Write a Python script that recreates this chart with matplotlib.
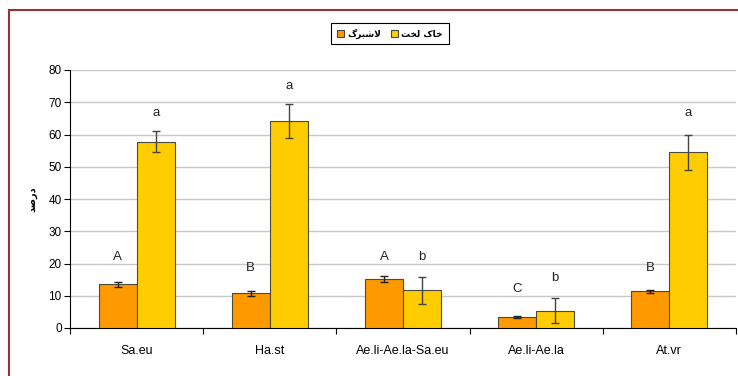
import numpy as np
import matplotlib.pyplot as plt
from matplotlib.patches import Rectangle

plt.rcParams['font.family'] = ['Liberation Sans', 'DejaVu Sans']

categories = ['Sa.eu', 'Ha.st', 'Ae.li-Ae.la-Sa.eu', 'Ae.li-Ae.la', 'At.vr']
litter = [13.5, 10.8, 15.2, 3.3, 11.4]
litter_err = [0.7, 0.8, 0.9, 0.3, 0.5]
bare = [57.8, 64.2, 11.7, 5.4, 54.5]
bare_err = [3.3, 5.2, 4.2, 3.9, 5.5]
litter_letters = ['A', 'B', 'A', 'C', 'B']
bare_letters = ['a', 'a', 'b', 'b', 'a']
litter_letter_y = [22.1, 18.6, 22.1, 12.0, 18.5]
bare_letter_y = [66.6, 74.9, 22.1, 15.4, 66.6]

# Persian labels written in presentation forms, visual (left-to-right) order
lbl_litter = '\uFB92\uFEAE\uFE92\uFEB7\uFEFB'          # لاشبرگ
lbl_bare = '\uFE96\uFEA8\uFEDF \uFB8E\uFE8E\uFEA7'     # خاک لخت
lbl_y = '\uFEAA\uFEBB\uFEAD\uFEA9'                     # درصد

fig = plt.figure(figsize=(7.38, 3.76), dpi=100)
ax = fig.add_axes([70 / 738, 1 - 328 / 376, 666 / 738, 258 / 376])

x = np.arange(len(categories))
w = 0.2857
ekw = dict(elinewidth=1, capthick=1, capsize=3, ecolor='#222222')
ax.bar(x - w / 2, litter, w, yerr=litter_err, color='#FF9900',
       edgecolor='#4a4a3a', linewidth=0.8, error_kw=ekw, zorder=3, label=lbl_litter)
ax.bar(x + w / 2, bare, w, yerr=bare_err, color='#FFCC00',
       edgecolor='#4a4a3a', linewidth=0.8, error_kw=dict(ekw, ecolor='#444444'),
       zorder=3, label=lbl_bare)

for i in range(len(categories)):
    ax.text(x[i] - w / 2, litter_letter_y[i], litter_letters[i], ha='center',
            va='center', fontsize=9.5, color='#222222')
    ax.text(x[i] + w / 2, bare_letter_y[i], bare_letters[i], ha='center',
            va='center', fontsize=9.5, color='#222222')

ax.set_xlim(-0.5, len(categories) - 0.5)
ax.set_ylim(0, 80)
ax.set_yticks(np.arange(0, 81, 10))
ax.yaxis.grid(True, color='#c8c8c8', linewidth=1, zorder=0)
ax.set_axisbelow(True)

ax.set_xticks(x)
ax.set_xticklabels(categories)
ax.set_xticks(np.arange(-0.5, len(categories)), minor=True)
ax.tick_params(axis='x', which='major', length=0, pad=12, labelsize=9)
ax.tick_params(axis='x', which='minor', length=4, width=0.8, direction='out')
ax.tick_params(axis='y', length=4, width=0.8, pad=2, labelsize=8.5)

for s in ['top', 'right']:
    ax.spines[s].set_visible(False)
for s in ['left', 'bottom']:
    ax.spines[s].set_linewidth(0.8)

ax.set_ylabel(lbl_y, fontsize=7, fontweight='bold', family='DejaVu Sans', labelpad=8)

leg = fig.legend(loc='center', bbox_to_anchor=(390 / 738, 1 - 33.5 / 376), ncol=2,
                 prop=dict(family='DejaVu Sans', weight='bold', size=6.5),
                 handlelength=0.8, handleheight=0.8, handletextpad=0.4,
                 columnspacing=1.0, fancybox=False, framealpha=1,
                 edgecolor='black', borderpad=0.6)
leg.get_frame().set_linewidth(0.8)

# outer chart border, clipped at right and bottom edges
fig.add_artist(Rectangle((8.5 / 738, -0.1), 1.2, 1.1 - 9.5 / 376,
                         transform=fig.transFigure, fill=False,
                         edgecolor='#9e2f33', linewidth=1.5))

fig.savefig('out.png', dpi=100)
